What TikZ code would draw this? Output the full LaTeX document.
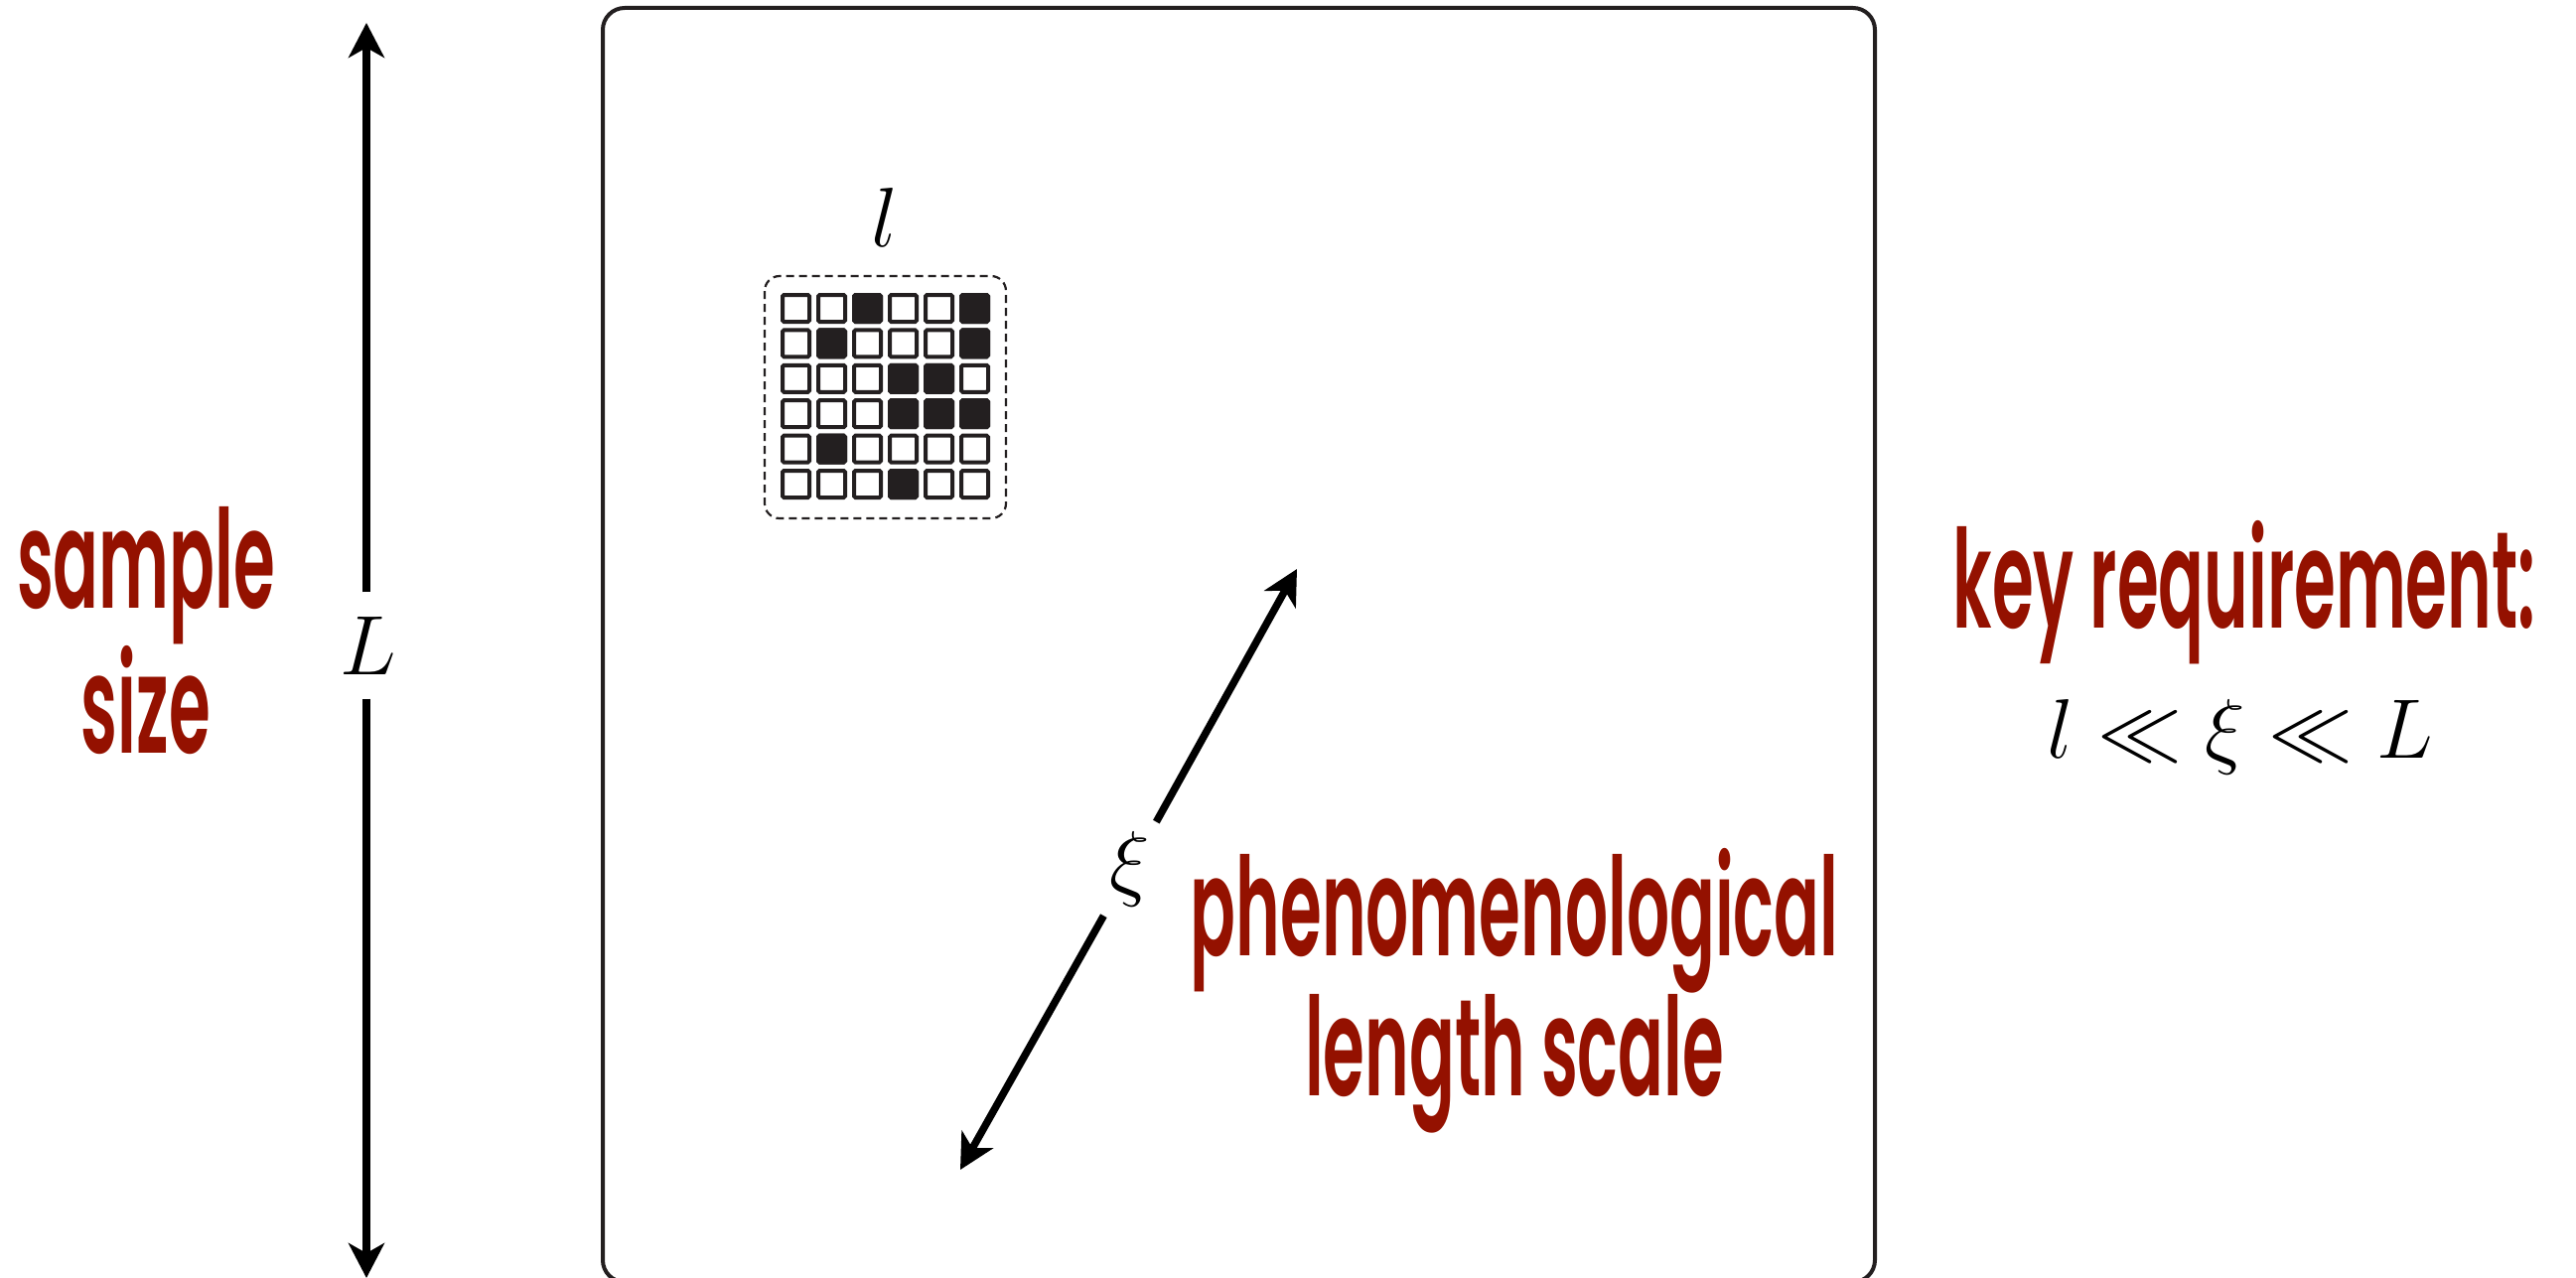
\RequirePackage{fix-cm}
\documentclass[tikz,border=0pt]{standalone}
\usepackage{fontspec}
\newfontfamily\redfont[FakeStretch=0.49]{Poppins SemiBold}
\usetikzlibrary{arrows.meta}
\definecolor{keyred}{RGB}{148,17,0}
\definecolor{ink}{RGB}{35,31,32}
\tikzset{
  mathlab/.style={font=\fontsize{85}{100}\selectfont, inner sep=0pt},
  redtext/.style={font=\redfont\fontsize{138}{136}\selectfont, text=keyred, align=center, inner sep=0pt},
  dimarrow/.style={line width=7.5pt, -{Stealth[length=35pt,width=36pt,inset=10pt]}},
  cell/.style={ink, line width=4pt, rounded corners=1.5pt},
  samplebox/.style={ink, line width=4pt, rounded corners=22pt},
  patchbox/.style={ink, line width=2.2pt, dash pattern=on 8pt off 5pt, rounded corners=15pt}
}
\begin{document}
\begin{tikzpicture}[x=1pt,y=-1pt]
\useasboundingbox (0,0) rectangle (2594,1287);
% sample
\draw[samplebox] (607,8) rectangle (1888,1291);
% patch
\draw[patchbox] (770,278) rectangle (1013,522);
\foreach \i in {0,...,5}
  \foreach \j in {0,...,5}
    \draw[cell, fill=white] ({788+\i*36},{297+\j*35.4}) rectangle ++(27,27);
\foreach \i/\j in {2/0,5/0,1/1,5/1,3/2,4/2,3/3,4/3,5/3,1/4,3/5}
    \draw[cell, fill=ink] ({788+\i*36},{297+\j*35.4}) rectangle ++(27,27);
\node[mathlab] (lsym) at (891,219) {$l$};
% sample size arrow
\node[mathlab, minimum height=107pt] (Lsym) at (371,650) {$L$};
\coordinate (Ltop) at (369,23);
\coordinate (Lbot) at (369,1287);
\draw[dimarrow] (Lsym.north -| Ltop) -- (Ltop);
\draw[dimarrow] (Lsym.south -| Lbot) -- (Lbot);
% xi arrow
\node[mathlab, circle, minimum size=108pt] (xi) at (1138,875) {$\xi$};
\coordinate (xitop) at (1306,573);
\coordinate (xibot) at (967,1178);
\draw[dimarrow] (xi) -- (xitop);
\draw[dimarrow] (xi) -- (xibot);
% texts (base anchor = baseline of last line)
\node[redtext, anchor=base] (samplesize) at (147,758) {sample\\size};
\node[redtext, anchor=base] (phenom) at (1525,1103) {phenomenological\\length scale};
\node[redtext, anchor=base] (keyreq) at (2260,632) {key requirement:};
\node[mathlab, anchor=base] (ineq) at (2256,763) {$l \ll \xi \ll L$};
\end{tikzpicture}
\end{document}
